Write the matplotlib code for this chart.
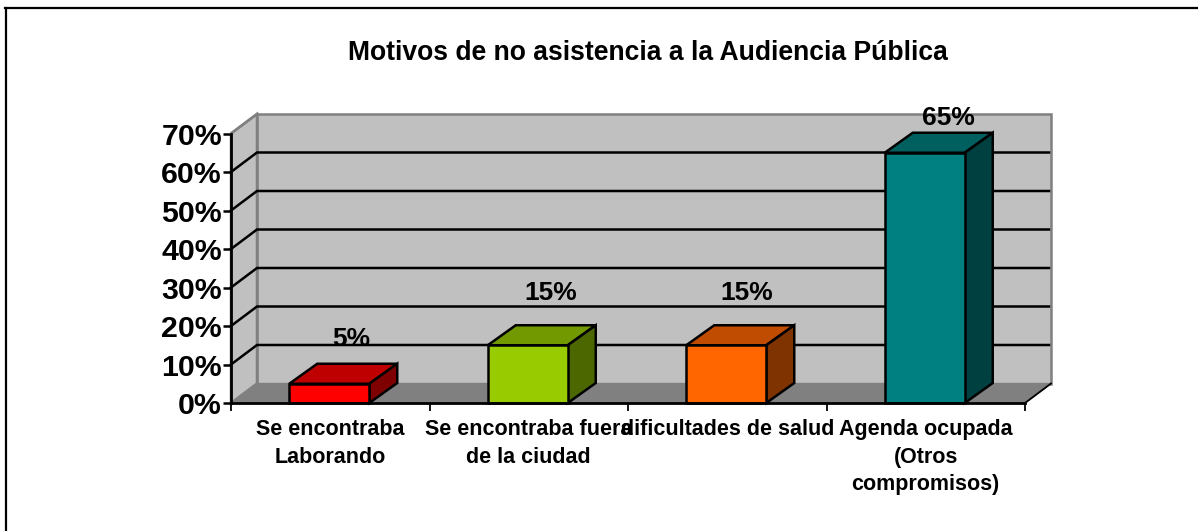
import matplotlib
matplotlib.use('Agg')
import matplotlib.pyplot as plt
from matplotlib.lines import Line2D
from matplotlib.patches import Polygon
from matplotlib.ticker import FuncFormatter

W, H = 1198, 531

categories = ['Se encontraba\nLaborando', 'Se encontraba fuera\nde la ciudad',
              'dificultades de salud', 'Agenda ocupada\n(Otros\ncompromisos)']
values = [5, 15, 15, 65]
value_labels = ['5%', '15%', '15%', '65%']
y_ticks = [0, 10, 20, 30, 40, 50, 60, 70]
front_colors = ['#ff0000', '#99cc00', '#ff6600', '#008080']
top_colors = ['#bf0000', '#729900', '#bf4c00', '#006060']
side_colors = ['#7f0000', '#4c6600', '#7f3300', '#004040']
# label placement above each bar in pixels, the labels are not evenly placed in the original
label_dx = [21, 22, 20, 23]
label_dy = [38, 45, 45, 28]

plt.rcParams['font.family'] = ['Liberation Sans', 'DejaVu Sans']
plt.rcParams['font.weight'] = 'bold'

fig = plt.figure(figsize=(W / 100, H / 100), dpi=100, facecolor='white')

# Plot box in pixels: front face of the 3D chart
left, right, top, bottom = 231, 1025, 133.5, 403
ax = fig.add_axes([left / W, 1 - bottom / H, (right - left) / W, (bottom - top) / H])
ax.set_xlim(0, 4)
ax.set_ylim(0, 70)
ax.patch.set_visible(False)

# depth of the 3D effect in data units
px_x = 4 / (right - left)
px_y = 70 / (bottom - top)
dx = 26 * px_x
dy = 19.5 * px_y
bar_w = 80 * px_x
bar_dx = 28 * px_x
bar_dy = 20 * px_y


def poly(points, color, edge, lw, z):
    ax.add_patch(Polygon(points, closed=True, facecolor=color, edgecolor=edge,
                         linewidth=lw, zorder=z, clip_on=False, joinstyle='miter'))


# walls and floor
poly([(dx, dy), (4 + dx, dy), (4 + dx, 70 + dy), (dx, 70 + dy)], '#c0c0c0', '#808080', 1.8, 1)
poly([(0, 0), (dx, dy), (dx, 70 + dy), (0, 70)], '#c0c0c0', '#808080', 1.8, 1)
poly([(0, 0), (4, 0), (4 + dx, dy), (dx, dy)], '#808080', '#808080', 1.0, 1.5)

# gridlines run along the side wall and the back wall
for t in y_ticks[1:-1]:
    ax.plot([0, dx, 4 + dx - 2 * px_x], [t, t + dy, t + dy], color='black', lw=1.8, zorder=2,
            clip_on=False, solid_joinstyle='miter')
ax.plot([0, dx], [70, 70 + dy], color='#808080', lw=1.8, zorder=2, clip_on=False)
ax.plot([4, 4 + dx], [0, dy], color='black', lw=1.3, zorder=2, clip_on=False)

# bars
for i, v in enumerate(values):
    x0 = i + 0.5 - bar_w / 2 - 1 * px_x
    x1 = x0 + bar_w
    poly([(x0, v), (x1, v), (x1 + bar_dx, v + bar_dy), (x0 + bar_dx, v + bar_dy)],
         top_colors[i], 'black', 1.8, 3)
    poly([(x1, 0), (x1 + bar_dx, bar_dy), (x1 + bar_dx, v + bar_dy), (x1, v)],
         side_colors[i], 'black', 1.8, 3)
    poly([(x0, 0), (x1, 0), (x1, v), (x0, v)], front_colors[i], 'black', 1.8, 4)
    ax.text(i + 0.5 + label_dx[i] * px_x, v + label_dy[i] * px_y, value_labels[i], ha='center',
            va='baseline', fontsize=19, fontweight='bold', zorder=5, clip_on=False)

# axes
for s in ['top', 'right']:
    ax.spines[s].set_visible(False)
for s in ['left', 'bottom']:
    ax.spines[s].set_linewidth(2.0)
    ax.spines[s].set_zorder(6)
ax.set_xticks(range(5))
ax.set_xticklabels([])
ax.set_yticks(y_ticks)
ax.yaxis.set_major_formatter(FuncFormatter(lambda v, p: f'{v:.0f}%'))
ax.tick_params(axis='y', length=6, width=1.8, labelsize=21.8, pad=0.5)
ax.tick_params(axis='x', length=6, width=1.3)

for i, c in enumerate(categories):
    ax.text(i + 0.5, -16 * px_y, c, ha='center', va='top', fontsize=15.5, fontweight='bold',
            linespacing=1.41, clip_on=False, zorder=5)

fig.text(648 / W, 1 - 53 / H, 'Motivos de no asistencia a la Audiencia Pública', ha='center', va='center',
         fontsize=19.1, fontweight='bold')

# chart frame, only the top and left edges are in the picture
fig.add_artist(Line2D([6 / W, 6 / W], [0, 1 - 8 / H], color='black', lw=1.6, transform=fig.transFigure))
fig.add_artist(Line2D([5 / W, 1], [1 - 8 / H, 1 - 8 / H], color='black', lw=1.6, transform=fig.transFigure))

fig.savefig('out.png', dpi=100)
